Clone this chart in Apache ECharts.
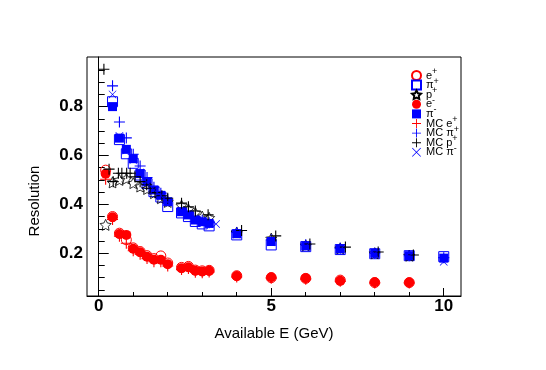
<!DOCTYPE html>
<html>
<head>
<meta charset="utf-8">
<script src="https://cdn.jsdelivr.net/npm/echarts@6/dist/echarts.min.js"></script>
<style>html,body{margin:0;padding:0;background:#fff;}#c{width:546px;height:370px;}</style>
</head>
<body>
<div id="c"></div>
<script>
// ---- data ----
const xTickLabels = [0, 5, 10];
const xMinorTicks = [1, 2, 3, 4, 6, 7, 8, 9];
const yTickLabels = [0.2, 0.4, 0.6, 0.8];
const yMinorTicks = [0.05, 0.1, 0.15, 0.25, 0.3, 0.35, 0.45, 0.5, 0.55, 0.65, 0.7, 0.75, 0.85, 0.9, 0.95];

const eX = [0.2, 0.4, 0.6, 0.8, 1.0, 1.2, 1.4, 1.6, 1.8, 2.0, 2.4, 2.6, 2.8, 3.0, 3.2, 4, 5, 6, 7, 8, 9];
const ePlusY  = [0.540, 0.350, 0.282, 0.255, 0.222, 0.207, 0.190, 0.178, 0.189, 0.160, 0.142, 0.146, 0.131, 0.128, 0.130, 0.108, 0.100, 0.097, 0.090, 0.080, 0.080];
const eMinusY = [0.525, 0.347, 0.279, 0.275, 0.218, 0.204, 0.186, 0.173, 0.173, 0.155, 0.139, 0.143, 0.128, 0.125, 0.128, 0.107, 0.102, 0.098, 0.087, 0.081, 0.080];
const mcEPlusY = [0.503, 0.338, 0.270, 0.241, 0.210, 0.196, 0.178, 0.165, 0.165, 0.148, 0.133, 0.138, 0.122, 0.120, 0.123, 0.103, 0.098, 0.094, 0.085, 0.078, 0.078];

const piX = [0.4, 0.6, 0.8, 1.0, 1.2, 1.4, 1.6, 1.8, 2.0, 2.4, 2.6, 2.8, 3.0, 3.2, 4, 5, 6, 7, 8, 9, 10];
const piPlusY  = [0.820, 0.665, 0.607, 0.568, 0.520, 0.485, 0.452, 0.430, 0.391, 0.365, 0.350, 0.330, 0.320, 0.312, 0.275, 0.234, 0.227, 0.215, 0.198, 0.190, 0.186];
const piMinusY = [0.800, 0.671, 0.625, 0.587, 0.526, 0.493, 0.459, 0.437, 0.411, 0.370, 0.357, 0.336, 0.329, 0.322, 0.280, 0.248, 0.230, 0.218, 0.200, 0.190, 0.180];
const mcPiPlusY = [0.885, 0.737, 0.672, 0.605, 0.557, 0.510, 0.470, 0.445, 0.420, 0.380, 0.365, 0.345, 0.335, 0.325, 0.285, 0.255, 0.235, 0.220, 0.200, 0.190, 0.182];

const mcPiMinusX = [0.4, 0.6, 0.8, 1.0, 1.2, 1.4, 1.6, 1.8, 2.0, 2.4, 2.6, 2.8, 3.0, 3.4, 4, 5, 6, 7, 8, 9, 10];
const mcPiMinusY = [0.850, 0.680, 0.620, 0.580, 0.530, 0.490, 0.460, 0.435, 0.410, 0.370, 0.355, 0.335, 0.330, 0.320, 0.280, 0.245, 0.228, 0.215, 0.198, 0.188, 0.165];

const pX = [0.2, 0.4, 0.6, 0.8, 1.0, 1.2, 1.4, 1.6, 1.8, 2.0, 2.4, 2.6, 2.8, 3.0, 3.2, 4, 5, 6, 7, 8, 9];
const pPlusY = [0.316, 0.490, 0.500, 0.505, 0.487, 0.473, 0.463, 0.446, 0.425, 0.410, 0.395, 0.380, 0.365, 0.350, 0.345, 0.285, 0.260, 0.232, 0.220, 0.200, 0.190];

const mcPX = [0.15, 0.3, 0.42, 0.57, 0.67, 0.81, 0.91, 1.05, 1.2, 1.39, 1.49, 1.63, 1.83, 2.0, 2.4, 2.6, 2.8, 3.17, 4.14, 5.13, 6.12, 7.15, 8.1, 9.12];
const mcPPlusY = [0.953, 0.544, 0.493, 0.527, 0.527, 0.527, 0.527, 0.513, 0.493, 0.480, 0.466, 0.448, 0.435, 0.425, 0.405, 0.390, 0.373, 0.357, 0.293, 0.271, 0.238, 0.225, 0.205, 0.193];

const seriesNames = ['e+', 'π+', 'p+', 'e-', 'π-', 'MC e+', 'MC π+', 'MC p+', 'MC π-'];

// ---- symbols ----
const PLUS = 'path://M0,4.5H10V5.5H0Z M4.5,0H5.5V10H4.5Z';
const CROSS = 'path://M0,0.6L0.6,0L10,9.4L9.4,10Z M9.4,0L10,0.6L0.6,10L0,9.4Z';
const STAR = 'path://M5,0L6.47,2.98L9.76,3.45L7.38,5.77L7.94,9.05L5,7.5L2.06,9.05L2.62,5.77L0.24,3.45L3.53,2.98Z';
const CLEAR = 'rgba(0,0,0,0)';

const zip = (xs, ys) => xs.map((x, i) => [x, ys[i]]);

function sc(name, xs, ys, symbol, size, style) {
  return {
    name: name, type: 'scatter', xAxisIndex: 0, yAxisIndex: 0,
    data: zip(xs, ys), symbol: symbol, symbolSize: size,
    itemStyle: Object.assign({opacity: 1}, style), emphasis: {disabled: true}, animation: false
  };
}

const series = [
  sc('e+', eX, ePlusY, 'circle', 10, {color: CLEAR, borderColor: '#ff0000', borderWidth: 1}),
  sc('π+', piX, piPlusY, 'rect', 10, {color: CLEAR, borderColor: '#0000ff', borderWidth: 1}),
  sc('p+', pX, pPlusY, STAR, 11, {color: CLEAR, borderColor: '#000000', borderWidth: 0.8}),
  sc('e-', eX, eMinusY, 'circle', 10, {color: '#ff0000'}),
  sc('π-', piX, piMinusY, 'rect', 9, {color: '#0000ff'}),
  sc('MC e+', eX, mcEPlusY, PLUS, 11, {color: '#ff0000'}),
  sc('MC π+', piX, mcPiPlusY, PLUS, 11, {color: '#0000ff'}),
  sc('MC p+', mcPX, mcPPlusY, PLUS, 11, {color: '#000000'}),
  sc('MC π-', mcPiMinusX, mcPiMinusY, CROSS, 8, {color: '#0000ff'})
];

const FONT = '"Liberation Sans", Arial, Helvetica, sans-serif';

const chart = echarts.init(document.getElementById('c'), null, {renderer: 'canvas'});
chart.setOption({
  backgroundColor: '#ffffff',
  animation: false,
  grid: {left: 87, top: 57, width: 374, height: 239, show: true, borderColor: '#000', borderWidth: 1, backgroundColor: CLEAR, containLabel: false},
  xAxis: [{
    type: 'value', min: -0.34, max: 10.5, position: 'bottom',
    name: 'Available E (GeV)', nameLocation: 'middle', nameGap: 30,
    nameTextStyle: {fontFamily: FONT, fontSize: 15, color: '#000'},
    axisLine: {show: true, lineStyle: {color: '#000', width: 1}},
    axisTick: {show: true, inside: true, length: 8, customValues: xTickLabels, lineStyle: {color: '#000'}},
    axisLabel: {show: true, customValues: xTickLabels, margin: 2, fontFamily: FONT, fontSize: 17, fontWeight: 'bold', color: '#000'},
    splitLine: {show: false}
  }, {
    type: 'value', min: -0.34, max: 10.5, position: 'bottom', offset: 0,
    axisLine: {show: false},
    axisTick: {show: true, inside: true, length: 4, customValues: xMinorTicks, lineStyle: {color: '#000'}},
    axisLabel: {show: false},
    splitLine: {show: false}
  }],
  yAxis: [{
    type: 'value', min: 0.025, max: 1.003, position: 'left',
    axisLine: {show: true, lineStyle: {color: '#000', width: 1}},
    axisTick: {show: true, inside: true, length: 10, customValues: yTickLabels, lineStyle: {color: '#000'}},
    axisLabel: {show: true, customValues: yTickLabels, margin: 4, fontFamily: FONT, fontSize: 17, fontWeight: 'bold', color: '#000',
      formatter: v => v.toFixed(1)},
    splitLine: {show: false}
  }, {
    type: 'value', min: 0.025, max: 1.003, position: 'left', offset: 0,
    axisLine: {show: false},
    axisTick: {show: true, inside: true, length: 6, customValues: yMinorTicks, lineStyle: {color: '#000'}},
    axisLabel: {show: false},
    splitLine: {show: false}
  }],
  legend: {
    data: seriesNames, orient: 'vertical', left: 411, top: 67,
    itemWidth: 9, itemHeight: 9, itemGap: -7.4, itemTextGap: 1, padding: 0,
    selectedMode: false,
    formatter: function (name) {
      const base = name.slice(0, -1), sign = name.slice(-1);
      return '{t|' + base + '}{s|' + sign + '}';
    },
    textStyle: {
      color: '#000', fontFamily: FONT, fontSize: 11,
      rich: {
        t: {fontFamily: FONT, fontSize: 11, lineHeight: 9, color: '#000'},
        s: {fontFamily: FONT, fontSize: 9, lineHeight: 6, padding: [0, 0, 8, 0], color: '#000'}
      }
    }
  },
  graphic: [{
    type: 'text', x: 35, y: 201, rotation: Math.PI / 2,
    style: {text: 'Resolution', fontFamily: FONT, fontSize: 15, fill: '#000', align: 'center', verticalAlign: 'middle'}
  }],
  series: series
});
</script>
</body>
</html>
